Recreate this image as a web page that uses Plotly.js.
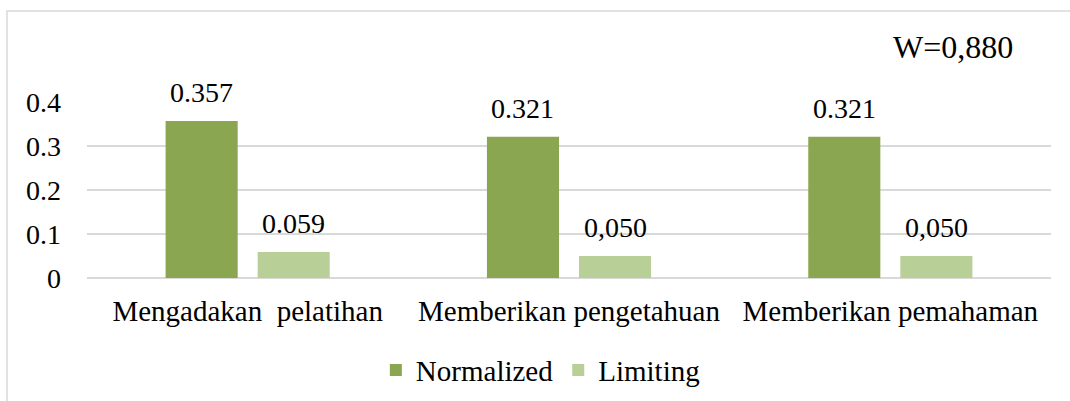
<!DOCTYPE html>
<html>
<head>
<meta charset="utf-8">
<script src="https://cdn.plot.ly/plotly-3.0.1.min.js"></script>
<style>
  html, body { margin: 0; padding: 0; background: #fff; }
  #chart { width: 1070px; height: 401px; }
</style>
</head>
<body>
<div id="chart"></div>
<script>
const categories = ["Mengadakan  pelatihan", "Memberikan pengetahuan", "Memberikan pemahaman"];
const normalizedValues = [0.357, 0.321, 0.321];
const normalizedLabels = ["0.357", "0.321", "0.321"];
const limitingValues = [0.059, 0.050, 0.050];
const limitingLabels = ["0.059", "0,050", "0,050"];
const yTicks = [0, 0.1, 0.2, 0.3, 0.4];
const yTickLabels = ["0", "0.1", "0.2", "0.3", "0.4"];
const weightLabel = "W=0,880";

const FONT = "Times New Roman, Liberation Serif, serif";
const FS = 28;
const FL = 29;

const traces = [
  {
    type: "bar", name: "Normalized", x: categories, y: normalizedValues,
    marker: { color: "#8ba650" }
  },
  {
    type: "bar", name: "Limiting", x: categories, y: limitingValues,
    marker: { color: "#b9cf98" }
  }
];

// value labels placed at each bar's value through the axes
const BARGAP = 0.427, GROUPGAP = 0.217;
const plotW = 1070 - 87 - 19;
const slot = plotW / categories.length * (1 - BARGAP) / 2;
const valueAnnotations = [];
[[normalizedValues, normalizedLabels, -1], [limitingValues, limitingLabels, 1]].forEach(([vals, labels, side]) => {
  vals.forEach((v, i) => {
    valueAnnotations.push({
      x: categories[i], y: v, xref: "x", yref: "y", text: labels[i],
      showarrow: false, xanchor: "center", yanchor: "bottom",
      xshift: side * slot / 2, yshift: 11,
      font: { family: FONT, size: FS, color: "#000" }
    });
  });
});

const layout = {
  width: 1070, height: 401,
  margin: { l: 87, r: 19, t: 102, b: 123 },
  paper_bgcolor: "#fff", plot_bgcolor: "#fff",
  font: { family: FONT, size: FS, color: "#000" },
  barmode: "group", bargap: BARGAP, bargroupgap: GROUPGAP,
  showlegend: true,
  legend: {
    orientation: "h", xref: "container", yref: "container",
    x: 0.505, xanchor: "center", y: 0.077, yanchor: "middle",
    font: { family: FONT, size: FL, color: "#000" }, bgcolor: "rgba(0,0,0,0)"
  },
  xaxis: {
    type: "category", showgrid: false, zeroline: false, showline: false,
    ticks: "", ticklabelstandoff: 13, automargin: false,
    tickfont: { family: FONT, size: FL, color: "#000" }, fixedrange: true
  },
  yaxis: {
    range: [0, 0.4], tickvals: yTicks, ticktext: yTickLabels,
    showgrid: true, gridcolor: "#d9d9d9", gridwidth: 1.5,
    zeroline: true, zerolinecolor: "#d9d9d9", zerolinewidth: 1.5,
    showline: false, ticks: "", ticklabelstandoff: 25, automargin: false,
    tickfont: { family: FONT, size: FS, color: "#000" }, fixedrange: true
  },
  shapes: [
    {
      type: "rect", xref: "paper", yref: "paper",
      x0: -0.083, x1: 1.05, y0: -0.8, y1: 1.517,
      line: { color: "#d9d9d9", width: 1.5 }, fillcolor: "rgba(0,0,0,0)", layer: "below"
    }
  ],
  annotations: valueAnnotations.concat([
    {
      text: weightLabel, xref: "paper", yref: "paper", x: 0.898, y: 1.31,
      xanchor: "center", yanchor: "middle", showarrow: false,
      font: { family: FONT, size: 32, color: "#000" }
    }
  ])
};

Plotly.newPlot("chart", traces, layout, { displayModeBar: false, staticPlot: true });
</script>
</body>
</html>
